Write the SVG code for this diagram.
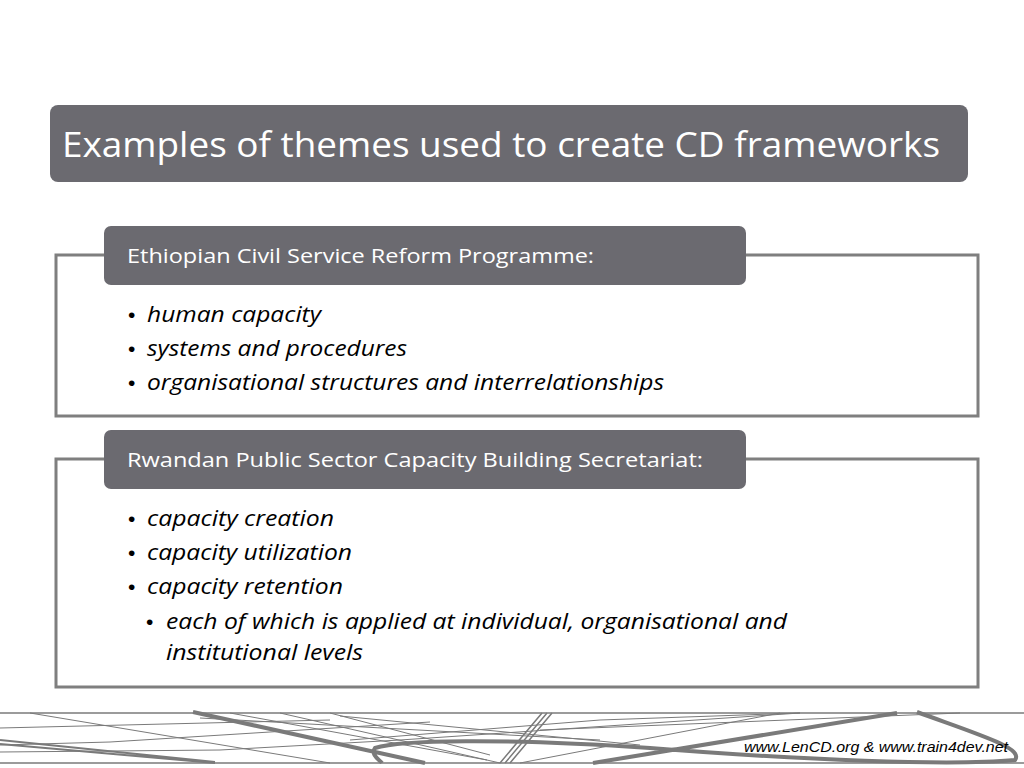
<svg xmlns="http://www.w3.org/2000/svg" width="1024" height="768" viewBox="0 0 1024 768">
<style>
.hdr{fill:#6b6a70}
.frame{fill:#fff;stroke:#7f7f7f;stroke-width:3}
.ht{font-family:"Open Sans",sans-serif;fill:#fff;font-size:20px}
.b{font-family:"Open Sans",sans-serif;font-style:italic;font-size:21px;fill:#000}
.bu{font-family:"Liberation Sans",sans-serif;font-style:normal}
.d{fill:none;stroke:#7a7a7a}
</style>
<rect width="1024" height="768" fill="#fff"/>
<g id="title">
<rect x="50" y="105" width="918" height="77" rx="8" class="hdr"/>
<text x="62" y="157" font-family="'Open Sans',sans-serif" font-size="34" fill="#fff" textLength="878" lengthAdjust="spacingAndGlyphs">Examples of themes used to create CD frameworks</text>
</g>
<g id="box1">
<rect x="56" y="255" width="922" height="161" class="frame"/>
<rect x="104" y="226" width="642" height="59" rx="7" class="hdr"/>
<text x="127" y="263" class="ht" textLength="467" lengthAdjust="spacingAndGlyphs">Ethiopian Civil Service Reform Programme:</text>
<text class="b"><tspan x="128" y="322" class="bu">•</tspan><tspan x="147" y="322" textLength="174" lengthAdjust="spacingAndGlyphs">human capacity</tspan><tspan x="128" y="356" class="bu">•</tspan><tspan x="147" y="356" textLength="260" lengthAdjust="spacingAndGlyphs">systems and procedures</tspan><tspan x="128" y="390" class="bu">•</tspan><tspan x="147" y="390" textLength="517" lengthAdjust="spacingAndGlyphs">organisational structures and interrelationships</tspan></text>
</g>
<g id="box2">
<rect x="56" y="459" width="922" height="228" class="frame"/>
<rect x="104" y="430" width="642" height="59" rx="7" class="hdr"/>
<text x="127" y="467" class="ht" textLength="576" lengthAdjust="spacingAndGlyphs">Rwandan Public Sector Capacity Building Secretariat:</text>
<text class="b"><tspan x="128" y="526" class="bu">•</tspan><tspan x="147" y="526" textLength="187" lengthAdjust="spacingAndGlyphs">capacity creation</tspan><tspan x="128" y="560" class="bu">•</tspan><tspan x="147" y="560" textLength="205" lengthAdjust="spacingAndGlyphs">capacity utilization</tspan><tspan x="128" y="594" class="bu">•</tspan><tspan x="147" y="594" textLength="196" lengthAdjust="spacingAndGlyphs">capacity retention</tspan><tspan x="146" y="629" class="bu">•</tspan><tspan x="166" y="629" textLength="621" lengthAdjust="spacingAndGlyphs">each of which is applied at individual, organisational and</tspan><tspan x="166" y="660" textLength="197" lengthAdjust="spacingAndGlyphs">institutional levels</tspan></text>
</g>
<g id="footer">
<line x1="0" y1="713" x2="1024" y2="713" class="d" stroke-width="1.5"/>
<line x1="0" y1="763" x2="1024" y2="763" class="d" stroke-width="1.5"/>
<path class="d" d="M0 728 L330 720 M30 713 L330 763 M0 745 L110 742 L430 722 M0 752 L220 750 L400 740 L800 713 M230 713 L487 760 M200 718 L600 740 M340 716 L640 745 M350 740 L600 720 L800 713 M280 713 L500 763 M540 730 L960 713 M330 713 L490 755 M520 763 L780 713"/>
<path class="d" stroke-width="2" d="M0 740 L215 762 M0 744 L215 763"/>
<path class="d" stroke-width="4" d="M193 712 L425 763 M593 763 L897 713 M917 712 C980 735 1024 748 1015 760 C950 766 800 760 650 748 C500 738 400 740 375 748 C370 755 380 760 382 763"/>
<path class="d" stroke-width="1.5" d="M547 713 L505 763 M552 713 L510 763 M542 713 L500 763"/>
<text x="1008" y="752" text-anchor="end" font-family="'Liberation Sans',sans-serif" font-style="italic" font-size="15" fill="#000" textLength="264" lengthAdjust="spacingAndGlyphs">www.LenCD.org &amp; www.train4dev.net</text>
</g>
</svg>
